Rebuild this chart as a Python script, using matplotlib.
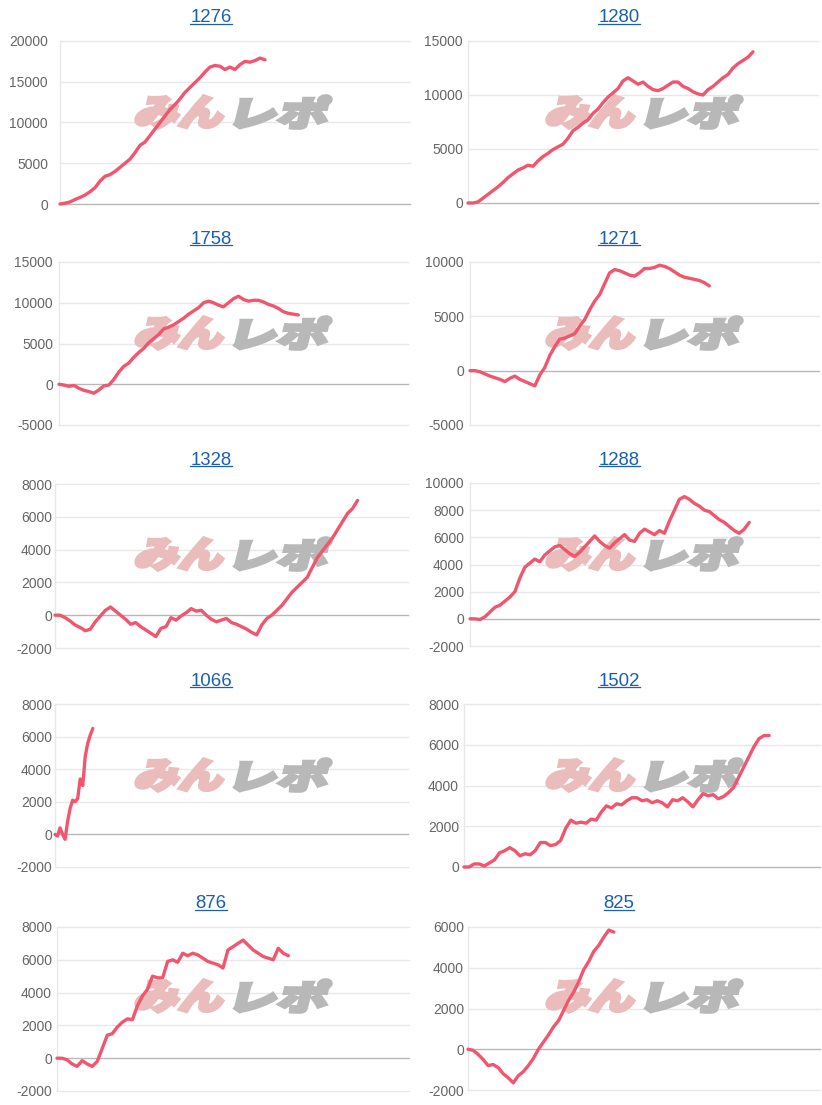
import numpy as np
import matplotlib
matplotlib.use("Agg")
import matplotlib.pyplot as plt
from matplotlib.textpath import TextPath
from matplotlib.font_manager import FontProperties
from matplotlib.patches import PathPatch
from matplotlib.transforms import Affine2D, IdentityTransform
from matplotlib.lines import Line2D

plt.rcParams['font.family'] = ['Liberation Sans', 'DejaVu Sans']
plt.rcParams['axes.unicode_minus'] = False

W, H = 822, 1105
LINE = '#f0566e'
GRID = '#e8e8e8'
BASE = '#b8b8b8'
LABEL = '#666666'
LINK = '#1a5fb4'

# ---- data (cumulative results per title) ----
titles = ['1276', '1280', '1758', '1271', '1328', '1288', '1066', '1502', '876', '825']

s1276 = [0, 100, 250, 550, 800, 1100, 1500, 2000, 2800, 3400, 3600, 4000, 4500, 5000,
         5500, 6300, 7200, 7600, 8400, 9200, 10000, 10800, 11600, 12200, 12900, 13700,
         14300, 14900, 15500, 16200, 16800, 17000, 16900, 16500, 16800, 16500, 17100,
         17500, 17400, 17600, 17900, 17700]
s1280 = [0, 0, 100, 450, 800, 1150, 1500, 1900, 2350, 2700, 3050, 3250, 3500, 3400,
         3900, 4300, 4600, 4950, 5200, 5450, 6000, 6700, 7000, 7400, 7700, 8300, 8700,
         9300, 9800, 10200, 10600, 11300, 11600, 11300, 11000, 11200, 10800, 10500,
         10400, 10600, 10900, 11200, 11200, 10800, 10600, 10300, 10100, 10000, 10500,
         10800, 11200, 11600, 11900, 12500, 12900, 13200, 13500, 14000]
s1758 = [0, -100, -250, -150, -500, -750, -900, -1100, -700, -200, -100, 600, 1500,
         2200, 2600, 3300, 3900, 4400, 5100, 5600, 6100, 6800, 7000, 7300, 7700, 8100,
         8600, 9000, 9400, 10000, 10200, 10000, 9700, 9500, 10000, 10500, 10800, 10400,
         10200, 10300, 10300, 10100, 9800, 9600, 9300, 8900, 8700, 8600, 8500]
s1271 = [0, 0, -100, -300, -500, -650, -800, -1000, -700, -500, -800, -1000, -1200,
         -1400, -400, 300, 1400, 2200, 2900, 3000, 3200, 3400, 4100, 4700, 5600, 6400,
         7000, 8000, 9000, 9300, 9200, 9000, 8800, 8700, 9000, 9400, 9400, 9500, 9700,
         9600, 9400, 9100, 8800, 8600, 8500, 8400, 8300, 8100, 7800]
s1328 = [0, 0, -150, -350, -600, -750, -950, -850, -400, -50, 300, 500, 250, 0, -250,
         -550, -450, -700, -900, -1100, -1300, -800, -700, -150, -300, -50, 150, 400,
         250, 300, 0, -250, -400, -300, -200, -450, -550, -700, -850, -1050, -1200,
         -600, -200, 0, 300, 600, 1000, 1400, 1700, 2000, 2300, 2900, 3500, 3900, 4300,
         4700, 5200, 5700, 6200, 6500, 7000]
s1288 = [0, 0, -50, 150, 500, 850, 1000, 1300, 1600, 2000, 3000, 3800, 4100, 4400,
         4200, 4700, 5000, 5300, 5400, 5100, 4800, 4600, 4900, 5300, 5700, 6100, 5700,
         5400, 5200, 5600, 5900, 6200, 5800, 5700, 6300, 6600, 6400, 6200, 6500, 6300,
         7200, 8000, 8800, 9000, 8800, 8500, 8300, 8000, 7900, 7600, 7300, 7100, 6800,
         6500, 6300, 6600, 7100]
s1066 = [0, -100, 400, 0, -300, 800, 1600, 2100, 2000, 2200, 3400, 3000, 4800, 5600,
         6100, 6500]
s1502 = [0, 0, 150, 150, 50, 200, 350, 700, 800, 950, 800, 550, 650, 600, 800, 1200,
         1200, 1050, 1100, 1300, 1900, 2300, 2150, 2200, 2150, 2350, 2300, 2700, 3000,
         2900, 3100, 3050, 3250, 3400, 3400, 3250, 3300, 3150, 3250, 3150, 2950, 3300,
         3250, 3400, 3200, 2950, 3300, 3600, 3500, 3550, 3350, 3450, 3650, 3900, 4400,
         4900, 5400, 5900, 6300, 6450, 6450]
s876 = [0, 0, -100, -350, -500, -150, -350, -500, -200, 600, 1400, 1500, 1900, 2200,
        2400, 2350, 3200, 3800, 4200, 5000, 4900, 4900, 5900, 6000, 5850, 6400, 6250,
        6400, 6300, 6100, 5900, 5800, 5700, 5500, 6600, 6800, 7000, 7200, 6900, 6600,
        6400, 6200, 6100, 6000, 6700, 6400, 6250]
s825 = [0, -50, -250, -500, -800, -750, -900, -1200, -1400, -1650, -1300, -1100, -800,
        -450, 0, 350, 700, 1100, 1400, 1900, 2400, 2800, 3300, 3900, 4300, 4800, 5100,
        5500, 5850, 5750]

series = [s1276, s1280, s1758, s1271, s1328, s1288, s1066, s1502, s876, s825]
x_step = [1, 1, 1, 1, 1, 1, 0.5, 1, 1, 1]
y_min = [0, 0, -5000, -5000, -2000, -2000, -2000, 0, -2000, -2000]
y_max = [20000, 15000, 15000, 10000, 8000, 10000, 8000, 8000, 8000, 6000]
y_step = [5000, 5000, 5000, 5000, 2000, 2000, 2000, 2000, 2000, 2000]
X_MAX = 70

# ---- layout in pixels ----
COL_X = [0, 411]
ROW_Y = [0, 221, 442, 663, 884]
AX_LEFT = [60, 57, 59, 59, 55, 59, 55, 53, 57, 57]
AX_RIGHT = [410, 407, 408, 408, 408, 408, 408, 409, 409, 409]
LABEL_RIGHT = [48, 52, 53, 53, 52, 53, 52, 48, 52, 53]
PLOT_TOP = [41, 41, 41, 41, 42, 41, 41, 41, 43, 43]
PLOT_BOT = [204, 203, 204, 204, 206, 204, 204, 204, 207, 206]
TITLE_X = [211, 208]
TITLE_Y = [18, 18, 18, 18, 18, 18, 18, 18, 20, 20]

fig = plt.figure(figsize=(W / 100, H / 100), dpi=100)
fp_wm = FontProperties(family='Noto Sans CJK JP', weight='black')


def watermark(ax, text, x0, y0, x1, y1, color, skew=14):
    # text squeezed into a pixel box (image coords, y down) with an italic slant
    tp = TextPath((0, 0), text, size=50, prop=fp_wm)
    ext = tp.get_extents()
    h = y1 - y0
    w = (x1 - x0) - np.tan(np.radians(skew)) * h
    tr = (Affine2D().translate(-ext.x0, -ext.y0)
          .scale(w / ext.width, h / ext.height)
          .skew_deg(skew, 0)
          .translate(x0, H - y1))
    patch = PathPatch(tr.transform_path(tp), facecolor=color, edgecolor=color,
                      lw=2.6, joinstyle='miter',
                      transform=IdentityTransform(), zorder=1.5, clip_on=False)
    ax.add_artist(patch)


title_texts = []
for i, name in enumerate(titles):
    col, row = i % 2, i // 2
    px, py = COL_X[col], ROW_Y[row]
    L, R = px + AX_LEFT[i], px + AX_RIGHT[i]
    top, bot = py + PLOT_TOP[i], py + PLOT_BOT[i]
    ax = fig.add_axes([L / W, 1 - bot / H, (R - L) / W, (bot - top) / H])

    ticks = np.arange(y_min[i], y_max[i] + 1, y_step[i])
    for t in ticks:
        if t == 0:
            continue
        ax.axhline(t, color=GRID, lw=1, zorder=0.5, clip_on=False)
    ax.axhline(0, color=BASE, lw=1, zorder=1, clip_on=False)
    ax.axvline(0, color=GRID, lw=1, zorder=0.6, clip_on=False)

    vals = series[i]
    xs = np.arange(len(vals)) * x_step[i]
    ax.plot(xs, vals, color=LINE, lw=2.4, solid_joinstyle='round',
            solid_capstyle='round', zorder=3, clip_on=False)

    ax.set_xlim(0, X_MAX)
    ax.set_ylim(y_min[i], y_max[i])
    ax.set_xticks([])
    ax.set_yticks(ticks)
    ax.set_yticklabels([str(int(t)) for t in ticks])
    pad = (AX_LEFT[i] - LABEL_RIGHT[i]) * 0.72
    ax.tick_params(axis='y', length=0, pad=pad, labelsize=10, labelcolor=LABEL)
    for s in ax.spines.values():
        s.set_visible(False)
    ax.patch.set_alpha(0)

    watermark(ax, 'みん', px + 134, py + 96, px + 228, py + 128, '#ebbcbc')
    watermark(ax, 'レポ', px + 234, py + 96, px + 332, py + 128, '#b8b8b8')

    t = fig.text((px + TITLE_X[col]) / W, 1 - (py + TITLE_Y[i]) / H, name,
                 ha='center', va='center', fontsize=13.4, color=LINK)
    title_texts.append(t)

# underline the titles like links
fig.canvas.draw()
rend = fig.canvas.get_renderer()
for t in title_texts:
    bb = t.get_window_extent(rend)
    y = bb.y0 + 2.5
    fig.add_artist(Line2D([bb.x0, bb.x1], [y, y], color=LINK, lw=0.9,
                          transform=IdentityTransform()))

fig.savefig('out.png', dpi=100)
